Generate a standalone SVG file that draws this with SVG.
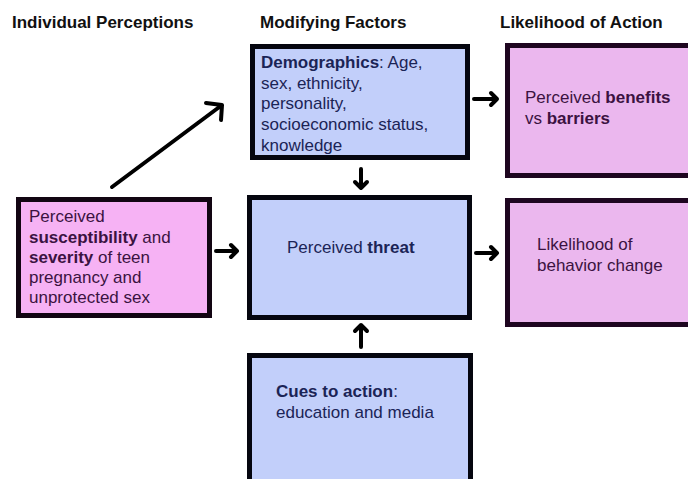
<svg xmlns="http://www.w3.org/2000/svg" width="688" height="479" viewBox="0 0 688 479">
<style>
text{font-family:"Liberation Sans",Arial,sans-serif;font-size:17px}
.h{font-weight:bold;fill:#111}
.b{font-weight:bold}
.blue rect{fill:#c2cffa;stroke:#05060f;stroke-width:5}
.blue text{fill:#1b2456}
.pinkL rect{fill:#f6b2f4;stroke:#120512;stroke-width:5}
.pinkL text{fill:#3b1241}
.pinkR rect{fill:#ebb7ee;stroke:#1e0620;stroke-width:5}
.pinkR text{fill:#3b1241}
.conn path{fill:none;stroke:#000;stroke-width:4;stroke-linecap:round;stroke-linejoin:round}
</style>
<rect width="688" height="479" fill="#fff"/>
<g id="headers">
<text class="h" x="12" y="28">Individual Perceptions</text>
<text class="h" x="260" y="28">Modifying Factors</text>
<text class="h" x="500" y="28">Likelihood of Action</text>
</g>
<g id="demographics" class="blue">
<rect x="252.5" y="46.5" width="215" height="111"/>
<text x="261" y="68"><tspan class="b">Demographics</tspan>: Age,</text>
<text x="261" y="89">sex, ethnicity,</text>
<text x="261" y="109">personality,</text>
<text x="261" y="130">socioeconomic status,</text>
<text x="261" y="151">knowledge</text>
</g>
<g id="susceptibility" class="pinkL">
<rect x="18.5" y="199.5" width="191" height="116"/>
<text x="29" y="222">Perceived</text>
<text x="29" y="243"><tspan class="b">susceptibility</tspan> and</text>
<text x="29" y="263"><tspan class="b">severity</tspan> of teen</text>
<text x="29" y="283">pregnancy and</text>
<text x="29" y="303">unprotected sex</text>
</g>
<g id="threat" class="blue">
<rect x="249.5" y="197.5" width="220" height="120"/>
<text x="287" y="253">Perceived <tspan class="b">threat</tspan></text>
</g>
<g id="benefits" class="pinkR">
<rect x="507.5" y="45.5" width="200" height="130"/>
<text x="525" y="103">Perceived <tspan class="b">benefits</tspan></text>
<text x="525" y="124">vs <tspan class="b">barriers</tspan></text>
</g>
<g id="likelihood" class="pinkR">
<rect x="507.5" y="200.5" width="200" height="124"/>
<text x="537" y="250">Likelihood of</text>
<text x="537" y="271">behavior change</text>
</g>
<g id="cues" class="blue">
<rect x="249.5" y="355.5" width="221" height="140"/>
<text x="276" y="397"><tspan class="b">Cues to action</tspan>:</text>
<text x="276" y="418">education and media</text>
</g>
<g id="connectors" class="conn">
<path d="M112 187 L222 105 M206 103 L222 105 L221 120"/>
<path d="M216 251 L237 251 M231 245 L237 251 L231 257"/>
<path d="M474 99 L497 99 M491 93 L497 99 L491 105"/>
<path d="M476 253 L497 253 M491 247 L497 253 L491 259"/>
<path d="M361 169 L361 188 M355 182 L361 188 L367 182"/>
<path d="M361 347 L361 325 M355 331 L361 325 L367 331"/>
</g>
</svg>
